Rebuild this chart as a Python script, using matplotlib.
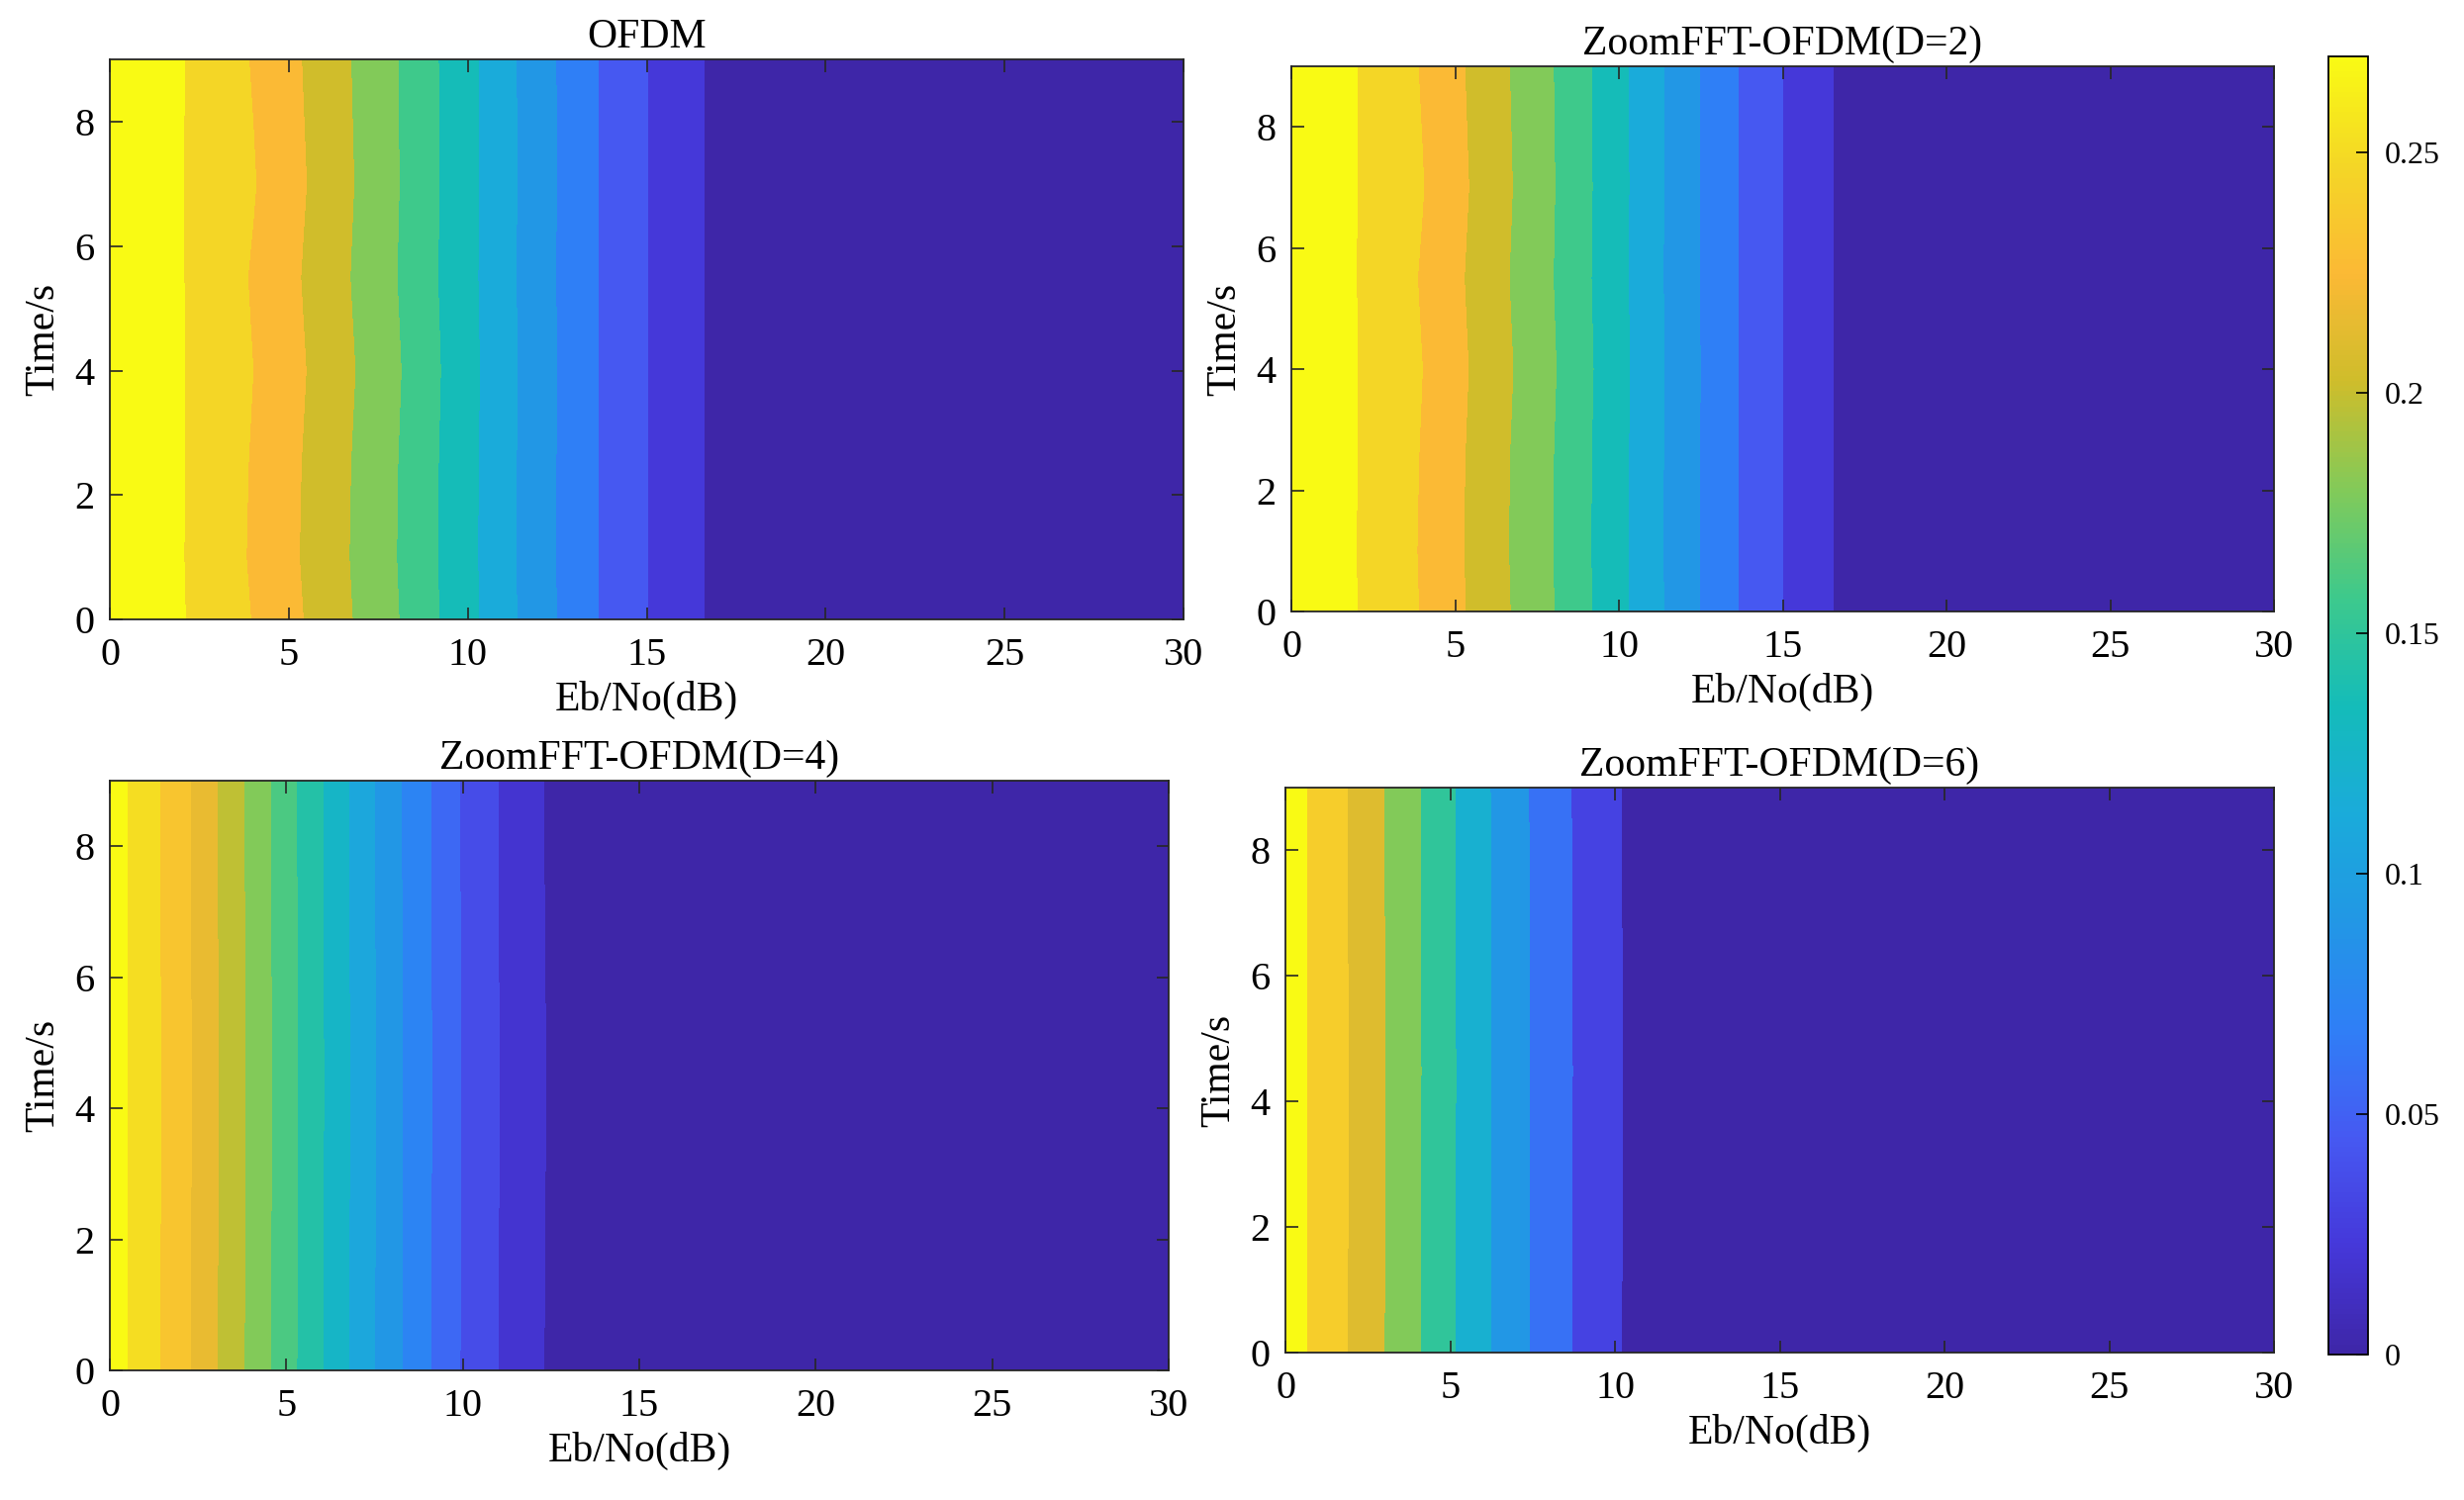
import numpy as np
import matplotlib
matplotlib.use("Agg")
import matplotlib.pyplot as plt
from matplotlib.colors import LinearSegmentedColormap, Normalize
from matplotlib.cm import ScalarMappable

plt.rcParams['font.family'] = ['Liberation Serif', 'DejaVu Serif']

# Eb/No grid (dB) shared by all panels
ebno = [0, 2, 4, 6, 8, 10, 12, 14, 16, 18, 20, 25, 30]

# OFDM: BER vs Eb/No, one row per time sample
time_ofdm = [0, 1, 2.5, 4, 5.5, 7, 9]
ber_ofdm = [
    [0.258, 0.2412, 0.2193, 0.1918, 0.1614, 0.1258, 0.0882, 0.0539, 0.0271, 0.0035, 0.0008, 0.0001, 0.0],
    [0.257, 0.2408, 0.2178, 0.1903, 0.1602, 0.1252, 0.0879, 0.0537, 0.0270, 0.0035, 0.0008, 0.0001, 0.0],
    [0.258, 0.2410, 0.2185, 0.1910, 0.1608, 0.1255, 0.0880, 0.0538, 0.0271, 0.0035, 0.0008, 0.0001, 0.0],
    [0.258, 0.2410, 0.2200, 0.1930, 0.1625, 0.1262, 0.0884, 0.0539, 0.0271, 0.0035, 0.0008, 0.0001, 0.0],
    [0.258, 0.2408, 0.2183, 0.1908, 0.1604, 0.1253, 0.0879, 0.0537, 0.0270, 0.0035, 0.0008, 0.0001, 0.0],
    [0.258, 0.2405, 0.2212, 0.1928, 0.1615, 0.1258, 0.0882, 0.0539, 0.0271, 0.0035, 0.0008, 0.0001, 0.0],
    [0.258, 0.2410, 0.2187, 0.1911, 0.1608, 0.1255, 0.0880, 0.0538, 0.0271, 0.0035, 0.0008, 0.0001, 0.0],
]

# ZoomFFT-OFDM, D=2
time_d2 = [0, 1, 2.5, 4, 5.5, 7, 9]
ber_d2 = [
    [0.258, 0.2400, 0.2188, 0.1902, 0.1603, 0.1256, 0.0881, 0.0539, 0.0261, 0.0032, 0.0007, 0.0001, 0.0],
    [0.258, 0.2399, 0.2182, 0.1894, 0.1598, 0.1253, 0.0879, 0.0537, 0.0260, 0.0032, 0.0007, 0.0001, 0.0],
    [0.258, 0.2400, 0.2188, 0.1898, 0.1600, 0.1255, 0.0880, 0.0538, 0.0260, 0.0032, 0.0007, 0.0001, 0.0],
    [0.258, 0.2401, 0.2200, 0.1915, 0.1615, 0.1261, 0.0883, 0.0539, 0.0261, 0.0032, 0.0007, 0.0001, 0.0],
    [0.258, 0.2399, 0.2184, 0.1896, 0.1599, 0.1254, 0.0879, 0.0537, 0.0260, 0.0032, 0.0007, 0.0001, 0.0],
    [0.258, 0.2400, 0.2206, 0.1915, 0.1608, 0.1257, 0.0881, 0.0538, 0.0260, 0.0032, 0.0007, 0.0001, 0.0],
    [0.258, 0.2400, 0.2186, 0.1898, 0.1600, 0.1255, 0.0880, 0.0538, 0.0260, 0.0032, 0.0007, 0.0001, 0.0],
]

# ZoomFFT-OFDM, D=4
time_d4 = [0, 4.5, 9]
ber_d4 = [
    [0.233, 0.2006, 0.1612, 0.1208, 0.0799, 0.0436, 0.0165, 0.0065, 0.0020, 0.0006, 0.0002, 0.0, 0.0],
    [0.233, 0.2010, 0.1618, 0.1212, 0.0803, 0.0440, 0.0168, 0.0066, 0.0020, 0.0006, 0.0002, 0.0, 0.0],
    [0.233, 0.2004, 0.1610, 0.1206, 0.0797, 0.0434, 0.0164, 0.0065, 0.0020, 0.0006, 0.0002, 0.0, 0.0],
]

# ZoomFFT-OFDM, D=6
time_d6 = [0, 4.5, 9]
ber_d6 = [
    [0.238, 0.1977, 0.1523, 0.1048, 0.0620, 0.0270, 0.0070, 0.0020, 0.0006, 0.0002, 0.0001, 0.0, 0.0],
    [0.238, 0.1980, 0.1527, 0.1052, 0.0624, 0.0274, 0.0072, 0.0020, 0.0006, 0.0002, 0.0001, 0.0, 0.0],
    [0.238, 0.1975, 0.1521, 0.1046, 0.0618, 0.0268, 0.0070, 0.0020, 0.0006, 0.0002, 0.0001, 0.0, 0.0],
]

titles = ['OFDM', 'ZoomFFT-OFDM(D=2)', 'ZoomFFT-OFDM(D=4)', 'ZoomFFT-OFDM(D=6)']
level_steps = [0.02, 0.02, 0.015, 0.025]
xticks = [0, 5, 10, 15, 20, 25, 30]
yticks = [0, 2, 4, 6, 8]
cbar_ticks = [0, 0.05, 0.1, 0.15, 0.2, 0.25]
cbar_labels = ['0', '0.05', '0.1', '0.15', '0.2', '0.25']

# parula-like colormap
parula = LinearSegmentedColormap.from_list('parula', [
    '#3E26A8', '#4538DA', '#4659F2', '#2F7FF6', '#2297E5', '#1AABDA', '#14BCB9',
    '#3DC98C', '#82CA59', '#CEBD2B', '#FBB935', '#F4D626', '#F9FA14'])

# axes rectangles (figure fractions)
positions = [
    [0.0446, 0.5870, 0.4357, 0.3734],
    [0.5241, 0.5923, 0.3988, 0.3635],
    [0.0446, 0.0864, 0.4297, 0.3931],
    [0.5217, 0.0983, 0.4012, 0.3766],
]

fig = plt.figure(figsize=(24.9, 15.16), dpi=100)

panels = [(time_ofdm, ber_ofdm), (time_d2, ber_d2), (time_d4, ber_d4), (time_d6, ber_d6)]
for (tt, zz), title, step, pos in zip(panels, titles, level_steps, positions):
    ax = fig.add_axes(pos)
    z = np.array(zz)
    levels = np.arange(0, z.max() + step, step)
    nb = len(levels) - 1
    colors = parula(np.linspace(0, 1, nb))
    cs = ax.contourf(ebno, tt, z, levels=levels, colors=colors, antialiased=False)
    ax.set_xlim(0, 30)
    ax.set_ylim(0, 9)
    ax.set_xticks(xticks)
    ax.set_yticks(yticks)
    ax.tick_params(direction='in', top=True, right=True, length=9, width=1.2,
                   labelsize=29, color='#262626')
    ax.tick_params(axis='x', pad=13)
    ax.tick_params(axis='y', pad=11)
    for s in ax.spines.values():
        s.set_linewidth(1.3)
        s.set_color('#262626')
    ax.set_title(title, fontsize=30, pad=9)
    ax.set_xlabel('Eb/No(dB)', fontsize=30, labelpad=5)
    ax.set_ylabel('Time/s', fontsize=30, labelpad=9)

cax = fig.add_axes([0.945, 0.097, 0.0161, 0.8654])
sm = ScalarMappable(norm=Normalize(0, 0.27), cmap=parula)
cb = fig.colorbar(sm, cax=cax)
cb.set_ticks(cbar_ticks)
cb.set_ticklabels(cbar_labels)
cb.ax.tick_params(direction='in', length=9, width=1.2, labelsize=23, pad=12)
cb.outline.set_linewidth(1.3)

fig.savefig('out.png', dpi=100)
